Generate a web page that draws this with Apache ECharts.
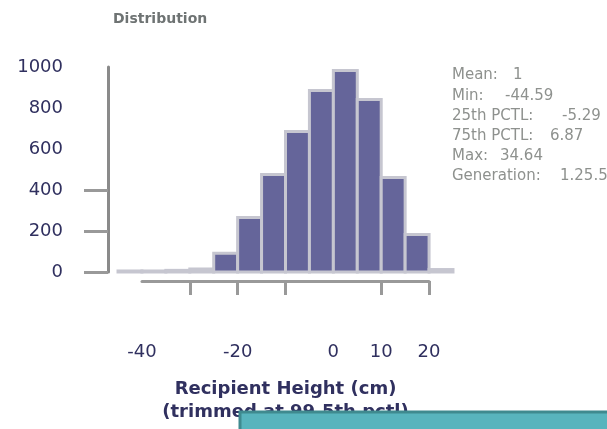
<!DOCTYPE html>
<html>
<head>
<meta charset="utf-8">
<script src="https://cdn.jsdelivr.net/npm/echarts@6/dist/echarts.min.js"></script>
<style>html,body{margin:0;padding:0;background:#fff}#c{width:607px;height:429px}</style>
</head>
<body>
<div id="c"></div>
<script>
// Histogram bins (cm) and counts
var binStart = [-45, -40, -35, -30, -25, -20, -15, -10, -5, 0, 5, 10, 15, 20];
var binEnd   = [-40, -35, -30, -25, -20, -15, -10, -5, 0, 5, 10, 15, 20, 25];
var counts   = [5, 5, 8, 15, 92, 266, 476, 685, 885, 983, 841, 461, 183, 12];
var yTicks = [0, 200, 400, 600, 800, 1000];
var yTickMarks = [0, 200, 400];
var xTickMarks = [-30, -20, -10, 10, 20];
var xTickLabels = [-40, -20, 0, 10, 20];
var statNames = ['Mean:', 'Min:', '25th PCTL:', '75th PCTL:', 'Max:', 'Generation:'];
var statValues = ['1', '-44.59', '-5.29', '6.87', '34.64', '1.25.5'];
var statValueX = [513, 505, 562, 550, 500, 560];

var data = binStart.map(function (s, i) { return [s, binEnd[i], counts[i]]; });

var statGraphics = [];
statNames.forEach(function (n, i) {
  var y = 77 + i * 20.2;
  statGraphics.push({ type: 'text', left: 452, top: y - 9, style: { text: n, font: '15px "DejaVu Sans"', fill: '#8e918e' } });
  statGraphics.push({ type: 'text', left: statValueX[i], top: y - 9, style: { text: statValues[i], font: '15px "DejaVu Sans"', fill: '#8e918e' } });
});

var chart = echarts.init(document.getElementById('c'));
chart.setOption({
  animation: false,
  title: {
    text: 'Distribution', left: 108, top: 7,
    textStyle: { fontFamily: 'DejaVu Sans', fontSize: 14, fontWeight: 'bold', color: '#6e7373' }
  },
  grid: [
    { left: 118, right: 154, top: 67, bottom: 157 },
    { left: 142, right: 178, top: 100, bottom: 148 }
  ],
  xAxis: [
    { gridIndex: 0, type: 'value', min: -45, max: 25, show: false },
    {
      gridIndex: 1, type: 'value', min: -40, max: 20,
      axisLine: { show: true, onZero: false, lineStyle: { color: '#999999', width: 3 } },
      axisTick: { show: true, length: 14, customValues: xTickMarks, lineStyle: { color: '#999999', width: 3 } },
      axisLabel: { customValues: xTickLabels, margin: 62, fontFamily: 'DejaVu Sans', fontSize: 18, color: '#30305f' },
      splitLine: { show: false },
      name: 'Recipient Height (cm)\n(trimmed at 99.5th pctl)',
      nameLocation: 'middle', nameGap: 97,
      nameTextStyle: { fontFamily: 'DejaVu Sans', fontSize: 18, fontWeight: 'bold', color: '#30305f', lineHeight: 23 }
    }
  ],
  yAxis: [
    {
      gridIndex: 0, type: 'value', min: 0, max: 1000, interval: 200, offset: 10,
      axisLine: { show: true, onZero: false, lineStyle: { color: '#8a8a8a', width: 3 } },
      axisTick: { show: true, length: 24, customValues: yTickMarks, lineStyle: { color: '#999999', width: 3 } },
      axisLabel: { customValues: yTicks, margin: 45, fontFamily: 'DejaVu Sans', fontSize: 18, color: '#30305f',
        formatter: function (v) { return String(v); } },
      splitLine: { show: false }
    },
    { gridIndex: 1, type: 'value', show: false }
  ],
  series: [{
    type: 'custom',
    xAxisIndex: 0, yAxisIndex: 0,
    data: data,
    encode: { x: [0, 1], y: 2 },
    renderItem: function (params, api) {
      var p0 = api.coord([api.value(0), 0]);
      var p1 = api.coord([api.value(1), api.value(2)]);
      return {
        type: 'rect',
        shape: { x: p0[0], y: p1[1], width: p1[0] - p0[0], height: p0[1] - p1[1] },
        style: { fill: '#65659a', stroke: '#c6c6d0', lineWidth: 3 }
      };
    }
  }],
  graphic: statGraphics.concat([
    { type: 'rect', shape: { x: 240, y: 412, width: 380, height: 30 }, style: { fill: '#58b4bd', stroke: '#3f8a8f', lineWidth: 3 }, z: 100 }
  ])
});
</script>
</body>
</html>
